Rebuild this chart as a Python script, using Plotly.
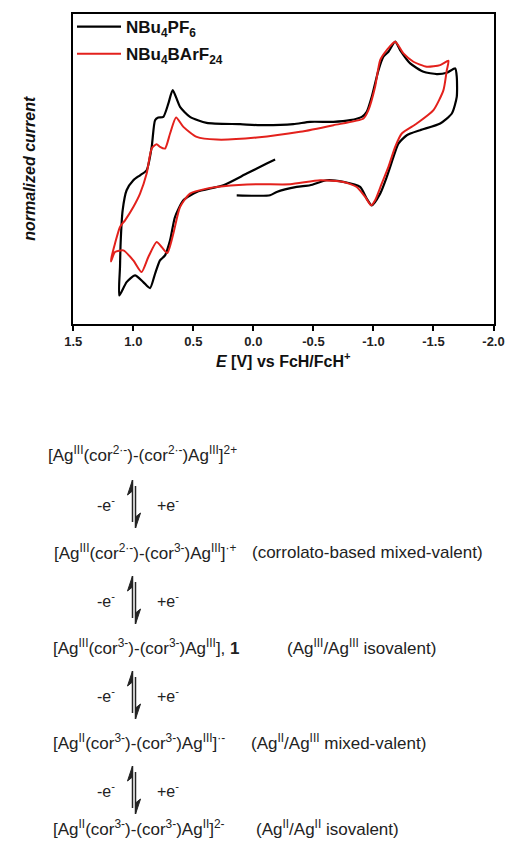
import plotly.graph_objects as go

W, H = 507, 842

# ---------------- data ----------------
# NBu4PF6 (black) cyclic voltammogram: potential E [V vs FcH/FcH+], normalized current
pf6_E = [0.139, -0.139, -0.194, -0.361, -0.472, -0.611, -0.750, -0.889, -0.944, -0.986,
         -1.056, -1.111, -1.167, -1.208, -1.278, -1.389, -1.556, -1.653, -1.694, -1.694,
         -1.681, -1.611, -1.528, -1.417, -1.306, -1.222, -1.181, -1.125, -1.083, -1.042,
         -0.986, -0.944, -0.903, -0.806, -0.667, -0.472, -0.333, -0.056, 0.111, 0.389,
         0.528, 0.611, 0.672, 0.708, 0.750, 0.792, 0.819, 0.847, 0.889, 0.944,
         1.000, 1.056, 1.089, 1.106, 1.111, 1.117, 1.056, 0.986, 0.917, 0.861,
         0.819, 0.778, 0.736, 0.694, 0.653, 0.583, 0.472, 0.250, 0.056, -0.111, -0.181]
pf6_I = [-0.85, -0.85, -0.75, -0.60, -0.55, -0.40, -0.45, -0.60, -0.95, -1.15,
         -0.80, -0.30, 0.30, 0.70, 0.95, 1.10, 1.30, 1.60, 2.10, 2.70,
         2.95, 2.82, 2.78, 2.85, 3.10, 3.50, 3.75, 3.45, 3.30, 2.90,
         2.10, 1.65, 1.50, 1.40, 1.35, 1.35, 1.28, 1.25, 1.28, 1.32,
         1.50, 1.80, 2.30, 1.90, 1.50, 1.48, 1.40, 0.60, -0.10, -0.25,
         -0.40, -0.70, -1.30, -2.30, -3.00, -3.85, -3.45, -3.25, -3.45, -3.63,
         -3.20, -2.80, -2.65, -2.20, -1.50, -1.00, -0.75, -0.55, -0.20, 0.10, 0.22]

# NBu4BArF24 (red) cyclic voltammogram
barf_E = [1.186, 1.153, 1.083, 1.000, 0.931, 0.875, 0.806, 0.764, 0.717, 0.667,
          0.611, 0.528, 0.389, 0.250, -0.028, -0.306, -0.556, -0.750, -0.861, -0.931,
          -0.981, -1.014, -1.069, -1.125, -1.181, -1.236, -1.361, -1.500, -1.583, -1.611,
          -1.625, -1.556, -1.444, -1.333, -1.250, -1.181, -1.111, -1.056, -1.014, -0.958,
          -0.917, -0.667, -0.389, -0.028, 0.306, 0.472, 0.583, 0.644, 0.694, 0.736,
          0.778, 0.806, 0.847, 0.889, 0.944, 1.000, 1.069, 1.111, 1.153, 1.181, 1.186]
barf_I = [-2.83, -2.55, -2.50, -2.80, -3.15, -2.70, -2.25, -2.40, -2.58, -2.00,
          -1.20, -0.80, -0.65, -0.58, -0.52, -0.52, -0.40, -0.45, -0.60, -0.90,
          -1.15, -1.00, -0.50, 0.00, 0.60, 1.00, 1.30, 1.70, 2.30, 2.90,
          3.18, 3.05, 3.00, 3.15, 3.40, 3.75, 3.50, 3.20, 2.40, 1.70,
          1.45, 1.25, 1.05, 0.88, 0.82, 0.90, 1.20, 1.48, 1.00, 0.55,
          0.60, 0.68, 0.55, -0.20, -0.80, -1.20, -1.60, -1.80, -2.30, -2.70, -2.83]

series_names = ["NBu<sub>4</sub>PF<sub>6</sub>", "NBu<sub>4</sub>BArF<sub>24</sub>"]
tick_vals = [1.5, 1.0, 0.5, 0.0, -0.5, -1.0, -1.5, -2.0]
tick_text = ["1.5", "1.0", "0.5", "0.0", "-0.5", "-1.0", "-1.5", "-2.0"]
x_title = "<b><i>E</i> [V] vs FcH/FcH<sup>+</sup></b>"
y_title = "<b><i>normalized current</i></b>"

scheme_species = [
    "[Ag<sup>III</sup>(cor<sup>2·-</sup>)-(cor<sup>2·-</sup>)Ag<sup>III</sup>]<sup>2+</sup>",
    "[Ag<sup>III</sup>(cor<sup>2·-</sup>)-(cor<sup>3-</sup>)Ag<sup>III</sup>]<sup>·+</sup>",
    "[Ag<sup>III</sup>(cor<sup>3-</sup>)-(cor<sup>3-</sup>)Ag<sup>III</sup>], <b>1</b>",
    "[Ag<sup>II</sup>(cor<sup>3-</sup>)-(cor<sup>3-</sup>)Ag<sup>III</sup>]<sup>·-</sup>",
    "[Ag<sup>II</sup>(cor<sup>3-</sup>)-(cor<sup>3-</sup>)Ag<sup>II</sup>]<sup>2-</sup>",
]
scheme_notes = [
    "",
    "(corrolato-based mixed-valent)",
    "(Ag<sup>III</sup>/Ag<sup>III</sup> isovalent)",
    "(Ag<sup>II</sup>/Ag<sup>III</sup> mixed-valent)",
    "(Ag<sup>II</sup>/Ag<sup>II</sup> isovalent)",
]
ox_label = "-e<sup>-</sup>"
red_label = "+e<sup>-</sup>"

# ---------------- layout helpers (pixel -> paper) ----------------
def fx(x):
    return x / W


def fy(y):
    return 1 - y / H


FONT = "Liberation Sans, Arial, Helvetica, sans-serif"

fig = go.Figure()
fig.add_trace(go.Scatter(x=pf6_E, y=pf6_I, mode="lines", name=series_names[0],
                         line=dict(color="#000000", width=2.2, shape="spline", smoothing=0.6),
                         legendgroup="a"))
fig.add_trace(go.Scatter(x=barf_E, y=barf_I, mode="lines", name=series_names[1],
                         line=dict(color="#e3211c", width=2.0, shape="spline", smoothing=0.6),
                         legendgroup="b"))

plot_l, plot_r, plot_t, plot_b = 73.3, 493.5, 14.0, 323.5

fig.update_layout(
    width=W, height=H,
    margin=dict(l=0, r=0, t=0, b=0),
    paper_bgcolor="white", plot_bgcolor="white",
    font=dict(family=FONT, color="#111"),
    showlegend=True,
    legend=dict(x=fx(72), y=fy(9), xanchor="left", yanchor="top",
                bgcolor="rgba(0,0,0,0)", font=dict(size=17, color="#111", weight="bold"),
                tracegroupgap=2, itemwidth=44),
    xaxis=dict(domain=[fx(plot_l), fx(plot_r)], range=[1.5, -2.0], autorange=False,
               showline=True, linecolor="black", linewidth=2, mirror=True,
               ticks="outside", ticklen=5, tickwidth=2, tickcolor="black",
               tickvals=tick_vals, ticktext=tick_text,
               tickfont=dict(size=13, color="#222", weight="bold"),
               showgrid=False, zeroline=False, automargin=False),
    yaxis=dict(domain=[fy(plot_b), fy(plot_t)], range=[-4.69, 4.58], autorange=False,
               showline=True, linecolor="black", linewidth=2, mirror=True,
               showticklabels=False, ticks="", showgrid=False, zeroline=False,
               automargin=False),
)

ann = []
ann.append(dict(x=fx((plot_l + plot_r) / 2), y=fy(360), xref="paper", yref="paper",
                text=x_title, showarrow=False, xanchor="center", yanchor="middle",
                font=dict(size=16, color="#111")))
ann.append(dict(x=fx(30), y=fy((plot_t + plot_b) / 2), xref="paper", yref="paper",
                text=y_title, showarrow=False, textangle=-90, xanchor="center", yanchor="middle",
                font=dict(size=16, color="#111")))

species_x = [46, 52, 51, 51, 51]
species_y = [454, 552, 647, 742, 828]
note_x = [0, 250, 285, 249, 254]
for i, s in enumerate(scheme_species):
    ann.append(dict(x=fx(species_x[i]), y=fy(species_y[i]), xref="paper", yref="paper",
                    text=s, showarrow=False, xanchor="left", yanchor="middle",
                    font=dict(size=17, color="#222")))
    if scheme_notes[i]:
        ann.append(dict(x=fx(note_x[i]), y=fy(species_y[i]), xref="paper", yref="paper",
                        text=scheme_notes[i], showarrow=False, xanchor="left", yanchor="middle",
                        font=dict(size=17, color="#222")))

arrow_y = [504, 600, 695, 790]
shapes = []
cx = 134
for cy in arrow_y:
    ann.append(dict(x=fx(95), y=fy(cy), xref="paper", yref="paper", text=ox_label,
                    showarrow=False, xanchor="left", yanchor="middle",
                    font=dict(size=16, color="#222")))
    ann.append(dict(x=fx(155), y=fy(cy), xref="paper", yref="paper", text=red_label,
                    showarrow=False, xanchor="left", yanchor="middle",
                    font=dict(size=16, color="#222")))
    top, bot = cy - 24, cy + 24
    xl, xr = cx - 1.5, cx + 1.5
    # upward harpoon (left)
    shapes.append(dict(type="line", xref="paper", yref="paper",
                       x0=fx(xl), x1=fx(xl), y0=fy(bot - 6), y1=fy(top),
                       line=dict(color="#222", width=1.5)))
    shapes.append(dict(type="path", xref="paper", yref="paper",
                       path=f"M {fx(xl)},{fy(top)} L {fx(xl - 5)},{fy(top + 15)} L {fx(xl)},{fy(top + 11)} Z",
                       fillcolor="#222", line=dict(color="#222", width=1)))
    # downward harpoon (right)
    shapes.append(dict(type="line", xref="paper", yref="paper",
                       x0=fx(xr), x1=fx(xr), y0=fy(top + 6), y1=fy(bot),
                       line=dict(color="#222", width=1.5)))
    shapes.append(dict(type="path", xref="paper", yref="paper",
                       path=f"M {fx(xr)},{fy(bot)} L {fx(xr + 5)},{fy(bot - 15)} L {fx(xr)},{fy(bot - 11)} Z",
                       fillcolor="#222", line=dict(color="#222", width=1)))

fig.update_layout(annotations=ann, shapes=shapes)

fig.write_html("out.html")
